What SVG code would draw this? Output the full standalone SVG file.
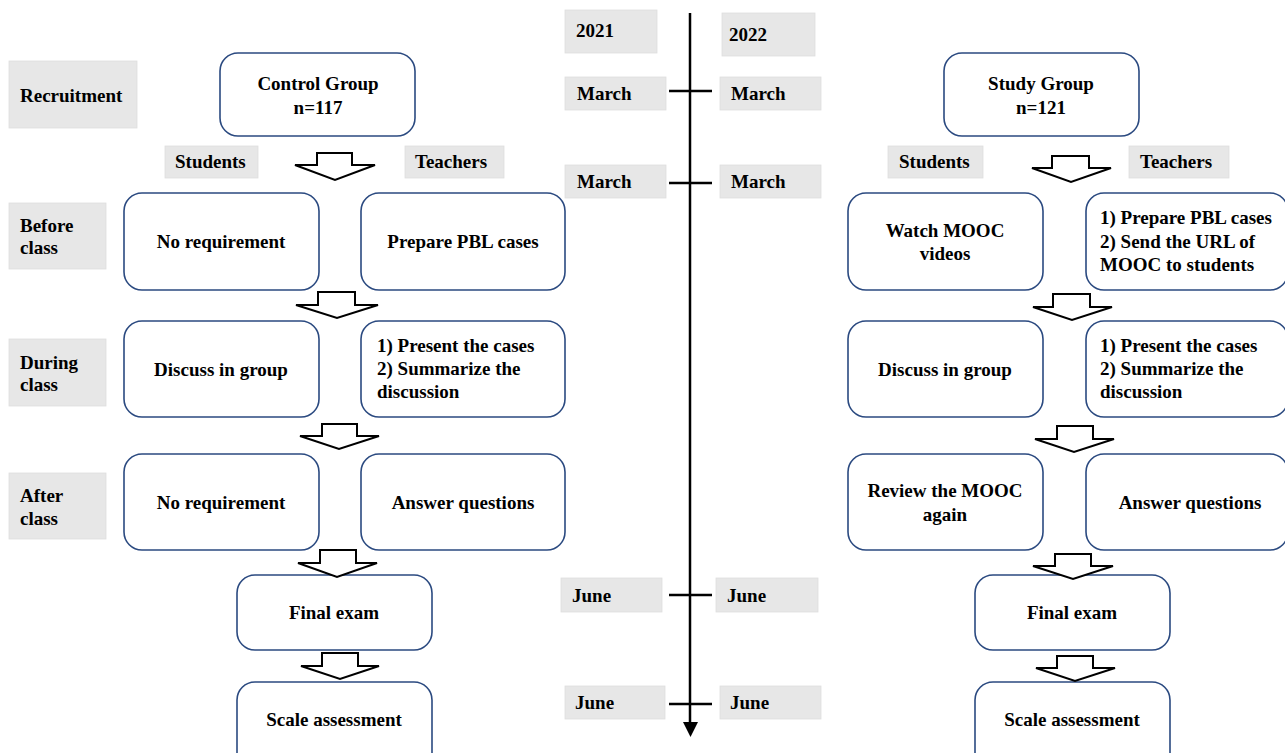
<svg xmlns="http://www.w3.org/2000/svg" width="1285" height="753" viewBox="0 0 1285 753">
<style>
  text { font-family: "Liberation Serif", "Times New Roman", serif; font-weight: bold; font-size: 19px; fill: #000; }
  .c { text-anchor: middle; }
  .lbl { fill: #e7e7e7; stroke: #dedede; stroke-width: 0.8; }
  .box { fill: #fff; stroke: #2b4a80; stroke-width: 1.6; }
  .arr { fill: #fff; stroke: #000; stroke-width: 2; stroke-linejoin: miter; }
  .tl { stroke: #000; stroke-width: 2.5; fill: none; }
</style>
<defs>
  <marker id="tip" viewBox="0 0 10 10" refX="5" refY="10" markerWidth="16" markerHeight="16" markerUnits="userSpaceOnUse" orient="auto-start-reverse">
  </marker>
</defs>
<rect width="1285" height="753" fill="#fff"/>

<!-- stage labels -->
<g id="lbl-recruitment"><rect class="lbl" x="9" y="61" width="128" height="67"/><text x="20" y="102">Recruitment</text></g>
<g id="lbl-before"><rect class="lbl" x="9" y="203" width="97" height="66"/><text x="20" y="232">Before</text><text x="20" y="254">class</text></g>
<g id="lbl-during"><rect class="lbl" x="9" y="339" width="97" height="67"/><text x="20" y="369">During</text><text x="20" y="391">class</text></g>
<g id="lbl-after"><rect class="lbl" x="9" y="473" width="97" height="66"/><text x="20" y="502">After</text><text x="20" y="525">class</text></g>

<!-- left column -->
<g id="control-group"><rect class="box" x="220" y="53" width="195" height="83" rx="18"/><text class="c" x="318" y="90">Control Group</text><text class="c" x="318" y="114">n=117</text></g>
<g id="lbl-students-l"><rect class="lbl" x="165" y="146" width="93" height="32"/><text x="175" y="168">Students</text></g>
<g id="lbl-teachers-l"><rect class="lbl" x="405" y="146" width="99" height="32"/><text x="415" y="168">Teachers</text></g>
<g id="l-before-s"><rect class="box" x="124" y="193" width="195" height="97" rx="18"/><text class="c" x="221" y="248">No requirement</text></g>
<g id="l-before-t"><rect class="box" x="361" y="193" width="204" height="97" rx="18"/><text class="c" x="463" y="248">Prepare PBL cases</text></g>
<g id="l-during-s"><rect class="box" x="124" y="321" width="195" height="96" rx="18"/><text class="c" x="221" y="376">Discuss in group</text></g>
<g id="l-during-t"><rect class="box" x="361" y="321" width="204" height="96" rx="18"/><text x="377" y="352">1) Present the cases</text><text x="377" y="375">2) Summarize the</text><text x="377" y="398">discussion</text></g>
<g id="l-after-s"><rect class="box" x="124" y="454" width="195" height="96" rx="18"/><text class="c" x="221" y="509">No requirement</text></g>
<g id="l-after-t"><rect class="box" x="361" y="454" width="204" height="96" rx="18"/><text class="c" x="463" y="509">Answer questions</text></g>
<g id="l-final"><rect class="box" x="237" y="575" width="195" height="75" rx="18"/><text class="c" x="334" y="619">Final exam</text></g>
<g id="l-scale"><rect class="box" x="237" y="682" width="195" height="90" rx="18"/><text class="c" x="334" y="726">Scale assessment</text></g>

<!-- timeline -->
<g id="timeline">
  <rect class="lbl" x="565" y="10" width="92" height="43"/><text x="576" y="37">2021</text>
  <rect class="lbl" x="722" y="13" width="93" height="43"/><text x="729" y="41">2022</text>
  <rect class="lbl" x="565" y="77" width="101" height="33"/><text x="577" y="100">March</text>
  <rect class="lbl" x="720" y="77" width="101" height="33"/><text x="731" y="100">March</text>
  <rect class="lbl" x="565" y="165" width="101" height="33"/><text x="577" y="188">March</text>
  <rect class="lbl" x="720" y="165" width="101" height="33"/><text x="731" y="188">March</text>
  <rect class="lbl" x="561" y="578" width="101" height="34"/><text x="572" y="602">June</text>
  <rect class="lbl" x="716" y="578" width="102" height="34"/><text x="727" y="602">June</text>
  <rect class="lbl" x="565" y="686" width="100" height="33"/><text x="575" y="709">June</text>
  <rect class="lbl" x="720" y="686" width="101" height="33"/><text x="730" y="709">June</text>
</g>

<!-- right column -->
<g id="study-group"><rect class="box" x="944" y="53" width="195" height="83" rx="18"/><text class="c" x="1041" y="90">Study Group</text><text class="c" x="1041" y="114">n=121</text></g>
<g id="lbl-students-r"><rect class="lbl" x="888" y="146" width="95" height="32"/><text x="899" y="168">Students</text></g>
<g id="lbl-teachers-r"><rect class="lbl" x="1129" y="146" width="100" height="32"/><text x="1140" y="168">Teachers</text></g>
<g id="r-before-s"><rect class="box" x="848" y="193" width="195" height="97" rx="18"/><text class="c" x="945" y="237">Watch MOOC</text><text class="c" x="945" y="260">videos</text></g>
<g id="r-before-t"><rect class="box" x="1086" y="193" width="202" height="97" rx="18"/><text x="1100" y="224">1) Prepare PBL cases</text><text x="1100" y="248">2) Send the URL of</text><text x="1100" y="271">MOOC to students</text></g>
<g id="r-during-s"><rect class="box" x="848" y="321" width="195" height="96" rx="18"/><text class="c" x="945" y="376">Discuss in group</text></g>
<g id="r-during-t"><rect class="box" x="1086" y="321" width="202" height="96" rx="18"/><text x="1100" y="352">1) Present the cases</text><text x="1100" y="375">2) Summarize the</text><text x="1100" y="398">discussion</text></g>
<g id="r-after-s"><rect class="box" x="848" y="454" width="195" height="96" rx="18"/><text class="c" x="945" y="497">Review the MOOC</text><text class="c" x="945" y="521">again</text></g>
<g id="r-after-t"><rect class="box" x="1086" y="454" width="202" height="96" rx="18"/><text class="c" x="1190" y="509">Answer questions</text></g>
<g id="r-final"><rect class="box" x="975" y="575" width="195" height="75" rx="18"/><text class="c" x="1072" y="619">Final exam</text></g>
<g id="r-scale"><rect class="box" x="975" y="682" width="195" height="90" rx="18"/><text class="c" x="1072" y="726">Scale assessment</text></g>

<!-- connectors -->
<g id="connectors">
  <line class="tl" x1="690" y1="13" x2="690" y2="724"/>
  <polygon points="683,722 698,722 690.5,737" fill="#000"/>
  <line class="tl" x1="669" y1="91" x2="712" y2="91"/>
  <line class="tl" x1="669" y1="183" x2="712" y2="183"/>
  <line class="tl" x1="669" y1="595" x2="712" y2="595"/>
  <line class="tl" x1="669" y1="704" x2="712" y2="704"/>

  <polygon class="arr" points="317,153 352,153 352,165 375,165 335,180 295,165 317,165"/>
  <polygon class="arr" points="318,292 355,292 355,305 378,305 337,318 296,305 318,305"/>
  <polygon class="arr" points="322,424 357,424 357,436 379,436 339,449 300,436 322,436"/>
  <polygon class="arr" points="320,550 356,550 356,563 377,563 337,577 298,563 320,563"/>
  <polygon class="arr" points="322,653 358,653 358,666 379,666 340,679 301,666 322,666"/>

  <polygon class="arr" points="1052,156 1089,156 1089,168 1111,168 1071,182 1032,168 1052,168"/>
  <polygon class="arr" points="1053,294 1090,294 1090,307 1112,307 1072,320 1033,307 1053,307"/>
  <polygon class="arr" points="1057,426 1093,426 1093,439 1114,439 1074,452 1035,439 1057,439"/>
  <polygon class="arr" points="1055,554 1091,554 1091,566 1113,566 1073,579 1033,566 1055,566"/>
  <polygon class="arr" points="1057,656 1093,656 1093,668 1115,668 1075,681 1036,668 1057,668"/>
</g>
</svg>
